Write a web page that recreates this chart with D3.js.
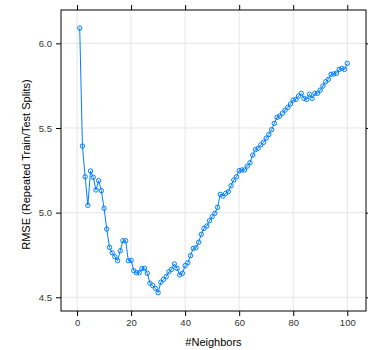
<!DOCTYPE html>
<html>
<head>
<meta charset="utf-8">
<script src="https://cdn.jsdelivr.net/npm/d3@7"></script>
<style>
  body { margin: 0; background: #fff; }
  svg { font-family: "Liberation Sans", Arial, sans-serif; }
</style>
</head>
<body>
<svg id="chart"></svg>
<script>
// Values
const neighbors = d3.range(1, 101);
const rmse = [
  6.09, 5.393, 5.212, 5.043, 5.246, 5.209, 5.134, 5.189, 5.13, 5.026,
  4.903, 4.795, 4.763, 4.74, 4.716, 4.775, 4.834, 4.834, 4.716, 4.718,
  4.657, 4.645, 4.645, 4.669, 4.671, 4.642, 4.583, 4.569, 4.553, 4.527,
  4.589, 4.606, 4.622, 4.651, 4.665, 4.697, 4.671, 4.632, 4.642, 4.687,
  4.704, 4.746, 4.789, 4.793, 4.825, 4.872, 4.907, 4.921, 4.952, 4.976,
  4.996, 5.031, 5.108, 5.098, 5.114, 5.124, 5.159, 5.193, 5.212, 5.248,
  5.252, 5.252, 5.275, 5.295, 5.34, 5.372, 5.38, 5.40, 5.415, 5.44,
  5.462, 5.49, 5.527, 5.563, 5.571, 5.587, 5.606, 5.622, 5.642, 5.665,
  5.669, 5.689, 5.705, 5.675, 5.669, 5.699, 5.675, 5.705, 5.705, 5.724,
  5.748, 5.773, 5.787, 5.817, 5.819, 5.823, 5.846, 5.852, 5.846, 5.882
];
const xTicks = [0, 20, 40, 60, 80, 100];
const yTicks = [4.5, 5.0, 5.5, 6.0];

const width = 368, height = 350;
const panel = { left: 61, right: 366, top: 10, bottom: 311 };
const col = "#0080ff";

const svg = d3.select("#chart").attr("width", width).attr("height", height);

const x = d3.scaleLinear().domain([-5.93, 106.93]).range([panel.left, panel.right]);
const y = d3.scaleLinear().domain([4.419, 6.197]).range([panel.bottom, panel.top]);

// grid
svg.append("g").selectAll("line").data(xTicks).enter().append("line")
    .attr("x1", d => x(d)).attr("x2", d => x(d))
    .attr("y1", panel.top).attr("y2", panel.bottom)
    .attr("stroke", "#e6e6e6").attr("stroke-width", 1);
svg.append("g").selectAll("line").data(yTicks).enter().append("line")
    .attr("x1", panel.left).attr("x2", panel.right)
    .attr("y1", d => y(d)).attr("y2", d => y(d))
    .attr("stroke", "#e6e6e6").attr("stroke-width", 1);

// axes
const fmtY = d3.format(".1f");
const bottomAxis = svg.append("g")
    .attr("transform", `translate(0,${panel.bottom})`)
    .call(d3.axisBottom(x).tickValues(xTicks).tickSize(5).tickPadding(3));
const leftAxis = svg.append("g")
    .attr("transform", `translate(${panel.left},0)`)
    .call(d3.axisLeft(y).tickValues(yTicks).tickFormat(fmtY).tickSize(5).tickPadding(4));
const topAxis = svg.append("g")
    .attr("transform", `translate(0,${panel.top})`)
    .call(d3.axisTop(x).tickValues(xTicks).tickSize(5).tickFormat(""));
const rightAxis = svg.append("g")
    .attr("transform", `translate(${panel.right},0)`)
    .call(d3.axisRight(y).tickValues(yTicks).tickSize(5).tickFormat(""));

[bottomAxis, leftAxis, topAxis, rightAxis].forEach(a => {
  a.select(".domain").remove();
  a.selectAll(".tick line").attr("stroke", "#000");
  a.selectAll("text").attr("font-size", "9.5px").attr("fill", "#333");
});

// panel box
svg.append("rect")
    .attr("x", panel.left).attr("y", panel.top)
    .attr("width", panel.right - panel.left).attr("height", panel.bottom - panel.top)
    .attr("fill", "none").attr("stroke", "#000").attr("stroke-width", 1);

// line + points
const pts = neighbors.map((k, i) => [k, rmse[i]]);
svg.append("path")
    .datum(pts)
    .attr("fill", "none")
    .attr("stroke", col)
    .attr("stroke-width", 1)
    .attr("d", d3.line().x(d => x(d[0])).y(d => y(d[1])));

svg.append("g").selectAll("circle").data(pts).enter().append("circle")
    .attr("cx", d => x(d[0])).attr("cy", d => y(d[1]))
    .attr("r", 2.2)
    .attr("fill", "none")
    .attr("stroke", col)
    .attr("stroke-width", 1);

// titles
svg.append("text")
    .attr("x", (panel.left + panel.right) / 2)
    .attr("y", 346)
    .attr("text-anchor", "middle")
    .attr("font-size", "11px")
    .attr("fill", "#000")
    .text("#Neighbors");

svg.append("text")
    .attr("transform", `translate(30,${(panel.top + panel.bottom) / 2 + 4}) rotate(-90)`)
    .attr("text-anchor", "middle")
    .attr("font-size", "11px")
    .attr("fill", "#000")
    .text("RMSE (Repeated Train/Test Splits)");
</script>
</body>
</html>
